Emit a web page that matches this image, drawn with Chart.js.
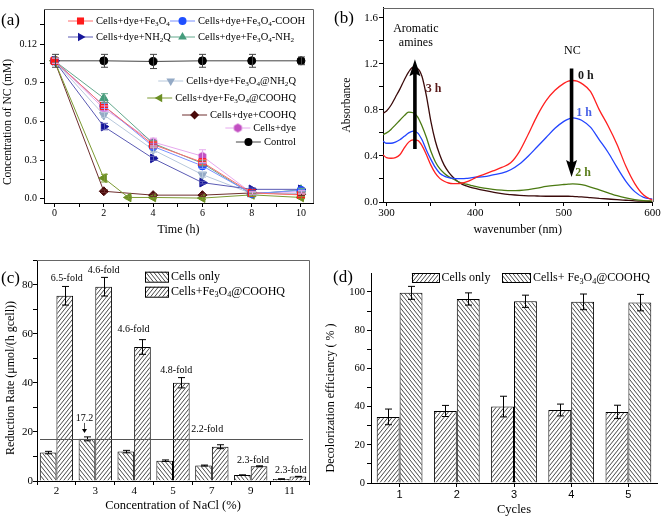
<!DOCTYPE html>
<html>
<head>
<meta charset="utf-8">
<title>NC decolorization figure</title>
<script src="https://cdn.jsdelivr.net/npm/chart.js@4.4.1/dist/chart.umd.min.js"></script>
<style>
  html, body { margin: 0; padding: 0; background: #fff; }
  #page { position: relative; width: 661px; height: 519px; overflow: hidden; background: #fff; }
  #page canvas { position: absolute; }
  .tag { position: absolute; font: 17px "Liberation Serif", serif; line-height: 20px; color: #000; }
</style>
</head>
<body>
<div id="page">
  <canvas id="chartA" width="330" height="250" style="left:0px;top:0px"></canvas>
  <canvas id="chartB" width="345" height="250" style="left:330px;top:0px"></canvas>
  <canvas id="chartC" width="318" height="269" style="left:0px;top:250px"></canvas>
  <canvas id="chartD" width="343" height="269" style="left:318px;top:250px"></canvas>
  <div class="tag" style="left:1px;top:10px">(a)</div>
  <div class="tag" style="left:334px;top:8px">(b)</div>
  <div class="tag" style="left:1px;top:268px">(c)</div>
  <div class="tag" style="left:333px;top:267px">(d)</div>
</div>
<script>
const SERIF = '"Liberation Serif", "Times New Roman", serif';
const SANS = '"Liberation Sans", Arial, sans-serif';

// (a) concentration of NC (mM) vs time (h)
const hours = [0, 2, 4, 6, 8, 10];
const hoursAtCOOHQ = [0, 2, 3, 4, 6, 8, 10];
const ncFe3O4 = [1.07, 0.72, 0.42, 0.283, 0.045, 0.03];
const ncFe3O4COOH = [1.07, 0.72, 0.406, 0.255, 0.04, 0.065];
const ncNH2Q = [1.07, 0.56, 0.313, 0.125, 0.073, 0.073];
const ncFe3O4NH2 = [1.07, 0.78, 0.43, 0.275, 0.035, 0.07];
const ncAtNH2Q = [1.07, 0.65, 0.38, 0.187, 0.04, 0.04];
const ncAtCOOHQ = [1.07, 0.16, 0.01, 0.01, 0.005, 0.03, 0.01];
const ncCOOHQ = [1.07, 0.058, 0.028, 0.028, 0.045, 0.035];
const ncCellsDye = [1.07, 0.70, 0.44, 0.33, 0.045, 0.053];
const ncControl = [1.07, 1.07, 1.065, 1.07, 1.07, 1.07];
const errFe3O4 = [0.02, 0.02, 0.02, 0.02, 0.01, 0.01];
const errFe3O4COOH = [0.02, 0.02, 0.02, 0.02, 0.01, 0.01];
const errNH2Q = [0.02, 0.025, 0.015, 0.01, 0.01, 0.01];
const errFe3O4NH2 = [0.02, 0.035, 0.02, 0.02, 0.01, 0.01];
const errAtNH2Q = [0.02, 0.02, 0.02, 0.02, 0.01, 0.01];
const errAtCOOHQ = [0.02, 0.03, 0.01, 0.01, 0.01, 0.01, 0.01];
const errCOOHQ = [0.02, 0.01, 0.01, 0.01, 0.01, 0.01];
const errCellsDye = [0.02, 0.02, 0.03, 0.05, 0.01, 0.01];
const errControl = [0.05, 0.05, 0.055, 0.05, 0.05, 0.03];
const yTicksA = ['0.0', '0.3', '0.6', '0.9', '0.12'];

// (b) absorbance spectra
const wavelengths = [296, 300, 305, 310, 315, 320, 325, 330, 335, 340, 345, 350, 355, 360, 365, 370, 375, 380, 385, 390, 395, 400, 410, 420, 430, 440, 450, 460, 470, 480, 490, 500, 505, 510, 515, 520, 530, 540, 550, 560, 570, 580, 590, 600];
const abs0h = [0.41, 0.385, 0.38, 0.385, 0.41, 0.47, 0.52, 0.54, 0.535, 0.49, 0.41, 0.32, 0.25, 0.205, 0.18, 0.165, 0.16, 0.16, 0.165, 0.175, 0.19, 0.21, 0.24, 0.27, 0.30, 0.34, 0.44, 0.59, 0.75, 0.88, 0.97, 1.03, 1.05, 1.055, 1.05, 1.03, 0.96, 0.80, 0.66, 0.50, 0.31, 0.16, 0.06, 0.015];
const abs1h = [0.53, 0.51, 0.51, 0.52, 0.54, 0.57, 0.60, 0.615, 0.60, 0.54, 0.45, 0.37, 0.30, 0.25, 0.225, 0.212, 0.205, 0.203, 0.203, 0.205, 0.21, 0.215, 0.22, 0.235, 0.25, 0.28, 0.33, 0.40, 0.48, 0.56, 0.64, 0.70, 0.72, 0.73, 0.725, 0.71, 0.65, 0.54, 0.43, 0.30, 0.18, 0.09, 0.04, 0.025];
const abs2h = [0.585, 0.60, 0.63, 0.67, 0.71, 0.75, 0.78, 0.775, 0.74, 0.66, 0.56, 0.44, 0.35, 0.29, 0.25, 0.22, 0.20, 0.18, 0.165, 0.155, 0.145, 0.135, 0.12, 0.11, 0.103, 0.098, 0.10, 0.108, 0.12, 0.135, 0.145, 0.152, 0.155, 0.157, 0.155, 0.15, 0.13, 0.105, 0.08, 0.055, 0.035, 0.02, 0.012, 0.008];
const abs3h = [0.77, 0.79, 0.84, 0.91, 0.98, 1.06, 1.13, 1.17, 1.16, 1.09, 0.92, 0.70, 0.53, 0.41, 0.32, 0.26, 0.215, 0.18, 0.155, 0.14, 0.128, 0.118, 0.10, 0.085, 0.072, 0.064, 0.058, 0.054, 0.052, 0.05, 0.05, 0.05, 0.05, 0.048, 0.046, 0.044, 0.038, 0.032, 0.026, 0.02, 0.015, 0.01, 0.007, 0.005];

// (c) reduction rate vs NaCl concentration
const naclLevels = ['2', '3', '4', '5', '7', '9', '11'];
const rateCells = [11.6, 17.2, 12.0, 8.3, 6.3, 2.4, 0.8];
const rateCellsErr = [0.5, 0.8, 0.5, 0.3, 0.2, 0.1, 0.1];
const rateHybrid = [75.6, 79.3, 54.7, 40.1, 14.0, 6.0, 1.8];
const rateHybridErr = [3.8, 3.8, 3.0, 2.1, 0.8, 0.2, 0.1];
const foldLabels = ['6.5-fold', '4.6-fold', '4.6-fold', '4.8-fold', '2.2-fold', '2.3-fold', '2.3-fold'];
const cellsRefRate = 17.2;

// (d) decolorization efficiency over cycles
const cycles = ['1', '2', '3', '4', '5'];
const decolCells = [34.6, 37.7, 40.0, 38.2, 37.2];
const decolCellsErr = [4.1, 2.9, 5.4, 3.1, 3.5];
const decolHybrid = [99.5, 96.3, 95.1, 94.8, 94.4];
const decolHybridErr = [3.4, 3.2, 3.2, 4.1, 4.3];
const yTicksD = [0, 10, 20, 30, 40, 50, 60, 70, 80, 90, 100];

Chart.defaults.font.family = SERIF;
Chart.defaults.color = '#000';

// text with one-character subscripts written as _3
function richText(ctx, str, x, y, size, align, weight) {
  const parts = [];
  for (let i = 0; i < str.length; i++) {
    if (str[i] === '_') { parts.push({ t: str[i + 1], sub: true }); i++; }
    else if (parts.length && !parts[parts.length - 1].sub) parts[parts.length - 1].t += str[i];
    else parts.push({ t: str[i], sub: false });
  }
  const w8 = weight || 'normal';
  let total = 0;
  parts.forEach(p => {
    ctx.font = w8 + ' ' + (p.sub ? size * 0.68 : size) + 'px ' + SERIF;
    p.w = ctx.measureText(p.t).width;
    total += p.w;
  });
  let cx = align === 'right' ? x - total : align === 'center' ? x - total / 2 : x;
  ctx.textAlign = 'left';
  ctx.textBaseline = 'middle';
  parts.forEach(p => {
    ctx.font = w8 + ' ' + (p.sub ? size * 0.68 : size) + 'px ' + SERIF;
    ctx.fillText(p.t, cx, p.sub ? y + size * 0.3 : y);
    cx += p.w;
  });
  return total;
}

function vTitle(ctx, text, x, y, size) {
  ctx.save();
  ctx.translate(x, y);
  ctx.rotate(-Math.PI / 2);
  ctx.font = size + 'px ' + SERIF;
  ctx.fillStyle = '#000';
  ctx.textAlign = 'center';
  ctx.textBaseline = 'middle';
  ctx.fillText(text, 0, 0);
  ctx.restore();
}

function makeHatch(canvasId, dir) {
  const w = 4, h = 5;
  const c = document.createElement('canvas');
  c.width = w; c.height = h;
  const g = c.getContext('2d');
  g.fillStyle = '#fff';
  g.fillRect(0, 0, w, h);
  g.strokeStyle = '#333';
  g.lineWidth = 0.9;
  g.beginPath();
  for (let k = -1; k <= 1; k++) {
    if (dir === '/') { g.moveTo(k * w, h); g.lineTo(k * w + w, 0); }
    else { g.moveTo(k * w, 0); g.lineTo(k * w + w, h); }
  }
  g.stroke();
  return document.getElementById(canvasId).getContext('2d').createPattern(c, 'repeat');
}

function hexagon(r, fill) {
  const s = Math.ceil(2 * r + 2);
  const c = document.createElement('canvas');
  c.width = s; c.height = s;
  const g = c.getContext('2d');
  g.beginPath();
  for (let k = 0; k < 6; k++) {
    const a = Math.PI / 6 + k * Math.PI / 3;
    const px = s / 2 + r * Math.cos(a), py = s / 2 + r * Math.sin(a);
    if (k) g.lineTo(px, py); else g.moveTo(px, py);
  }
  g.closePath();
  g.fillStyle = fill;
  g.fill();
  return c;
}

function drawMark(ctx, ds, x, y) {
  const s = ds.pointStyle, r = ds.pointRadius;
  if (typeof s !== 'string') { ctx.drawImage(s, x - s.width / 2, y - s.height / 2); return; }
  const rad = (ds.pointRotation || 0) * Math.PI / 180;
  ctx.save();
  ctx.fillStyle = ds.pointBackgroundColor;
  ctx.beginPath();
  if (s === 'circle') ctx.arc(x, y, r, 0, Math.PI * 2);
  else if (s === 'rect') { const h = r * Math.SQRT1_2; ctx.rect(x - h, y - h, 2 * h, 2 * h); }
  else if (s === 'rectRot') { ctx.moveTo(x, y - r); ctx.lineTo(x + r, y); ctx.lineTo(x, y + r); ctx.lineTo(x - r, y); }
  else if (s === 'triangle') {
    for (let k = 0; k < 3; k++) {
      const a = rad + k * 2 * Math.PI / 3;
      const px = x + Math.sin(a) * r, py = y - Math.cos(a) * r;
      if (k) ctx.lineTo(px, py); else ctx.moveTo(px, py);
    }
  }
  ctx.closePath();
  ctx.fill();
  ctx.restore();
}

function legendLine(ctx, ds, x, y) {
  ctx.save();
  ctx.strokeStyle = ds.borderColor;
  ctx.lineWidth = 1;
  ctx.beginPath();
  ctx.moveTo(x, y);
  ctx.lineTo(x + 25, y);
  ctx.stroke();
  ctx.restore();
  drawMark(ctx, ds, x + 12.5, y);
}

function fatArrow(ctx, x, yTail, yTip) {
  const dir = yTip < yTail ? -1 : 1;
  const headH = 15, headW = 5.5, shaft = 1.8;
  const yBase = yTip - dir * headH;
  ctx.beginPath();
  ctx.moveTo(x - shaft, yTail);
  ctx.lineTo(x - shaft, yBase);
  ctx.lineTo(x - headW, yBase - dir * 2);
  ctx.lineTo(x, yTip);
  ctx.lineTo(x + headW, yBase - dir * 2);
  ctx.lineTo(x + shaft, yBase);
  ctx.lineTo(x + shaft, yTail);
  ctx.closePath();
  ctx.fill();
}

// vertical error bars for any dataset carrying an "errors" array
Chart.register({
  id: 'errorBars',
  afterDatasetsDraw(chart) {
    const ctx = chart.ctx, ys = chart.scales.y;
    chart.data.datasets.forEach((ds, i) => {
      if (!ds.errors) return;
      const meta = chart.getDatasetMeta(i);
      const cap = ds.capWidth || 3;
      ctx.save();
      ctx.strokeStyle = ds.errorColor || '#000';
      ctx.lineWidth = 1;
      meta.data.forEach((el, j) => {
        const e = ds.errors[j];
        if (!e) return;
        const v = typeof ds.data[j] === 'object' ? ds.data[j].y : ds.data[j];
        const x = Math.round(el.x) + 0.5;
        const y1 = ys.getPixelForValue(v + e), y2 = ys.getPixelForValue(v - e);
        ctx.beginPath();
        ctx.moveTo(x, y1); ctx.lineTo(x, y2);
        ctx.moveTo(x - cap, y1); ctx.lineTo(x + cap, y1);
        ctx.moveTo(x - cap, y2); ctx.lineTo(x + cap, y2);
        ctx.stroke();
      });
      ctx.restore();
    });
  }
});

const frame = {
  id: 'frame',
  afterDraw(chart) {
    const { ctx, chartArea: a } = chart;
    ctx.save();
    ctx.strokeStyle = '#666';
    ctx.lineWidth = 1;
    ctx.beginPath();
    ctx.moveTo(a.left, Math.round(a.top) + 0.5);
    ctx.lineTo(Math.round(a.right) + 0.5, Math.round(a.top) + 0.5);
    ctx.lineTo(Math.round(a.right) + 0.5, a.bottom);
    ctx.stroke();
    ctx.restore();
  }
};

function axisBase(min, max, step, size, pad, callback) {
  return {
    type: 'linear', min, max, display: true,
    grid: { drawOnChartArea: false, drawTicks: true, tickLength: 4, color: '#000' },
    border: { display: true, color: '#000', width: 1 },
    ticks: { display: true, stepSize: step, includeBounds: false, autoSkip: false, maxRotation: 0, padding: pad, font: { size }, color: '#000', callback }
  };
}

function seriesA(label, xs, ys, errs, line, point, style, rot, radius) {
  return {
    label,
    data: xs.map((x, i) => ({ x, y: ys[i] })),
    errors: errs, errorColor: line, capWidth: 3.5,
    borderColor: line, backgroundColor: point, borderWidth: 1,
    pointBackgroundColor: point, pointBorderColor: point, pointBorderWidth: 1,
    pointStyle: style, pointRotation: rot, pointRadius: radius || 4
  };
}

// ---------- (a) ----------
const xA = axisBase(-0.426, 10.487, 1, 10, 0, v => (v % 2 === 0 ? v : ''));
xA.afterFit = s => { s.height = 47; };
xA.title = { display: true, text: 'Time (h)', font: { size: 12 }, padding: { top: 0, bottom: 12.8 } };
const yA = axisBase(-0.033, 1.472, 0.15, 10, 3, v => {
  const k = Math.round(v / 0.15);
  return k % 2 === 0 ? yTicksA[k / 2] : '';
});
yA.afterFit = s => { s.width = 44; };

new Chart(document.getElementById('chartA'), {
  type: 'line',
  data: {
    datasets: [
      seriesA('Cells+dye+Fe_3O_4', hours, ncFe3O4, errFe3O4, '#ff6b6b', '#ff1a1a', 'rect', 0, 5),
      seriesA('Cells+dye+Fe_3O_4-COOH', hours, ncFe3O4COOH, errFe3O4COOH, '#7890ff', '#1f4fff', 'circle', 0, 4),
      seriesA('Cells+dye+NH_2Q', hours, ncNH2Q, errNH2Q, '#5a5ab4', '#16169a', 'triangle', 90, 5),
      seriesA('Cells+dye+Fe_3O_4-NH_2', hours, ncFe3O4NH2, errFe3O4NH2, '#62a88c', '#459c7c', 'triangle', 0, 5),
      seriesA('Cells+dye+Fe_3O_4@NH_2Q', hours, ncAtNH2Q, errAtNH2Q, '#b7c8dc', '#94aac6', 'triangle', 180, 5),
      seriesA('Cells+dye+Fe_3O_4@COOHQ', hoursAtCOOHQ, ncAtCOOHQ, errAtCOOHQ, '#7c9a32', '#6b8e23', 'triangle', -90, 5),
      seriesA('Cells+dye+COOHQ', hours, ncCOOHQ, errCOOHQ, '#6e2e2e', '#4a0a0a', 'rectRot', 0, 4.5),
      seriesA('Cells+dye', hours, ncCellsDye, errCellsDye, '#e6a8ee', hexagon(4.5, '#c24fc2'), hexagon(4.5, '#c24fc2'), 0, 4.5),
      seriesA('Control', hours, ncControl, errControl, '#444', '#000', 'circle', 0, 4)
    ]
  },
  options: {
    responsive: false, animation: false,
    layout: { padding: { left: 0, top: 4, right: 17, bottom: 0 } },
    plugins: { legend: { display: false }, tooltip: { enabled: false } },
    scales: { x: xA, y: yA }
  },
  plugins: [frame, {
    id: 'legendA',
    afterDraw(chart) {
      const ctx = chart.ctx, ds = chart.data.datasets;
      ctx.save();
      ctx.fillStyle = '#000';
      [[0, 68, 21], [1, 170, 21], [2, 68, 37], [3, 170, 37]].forEach(([i, x, y]) => {
        legendLine(ctx, ds[i], x, y);
        ctx.fillStyle = '#000';
        richText(ctx, ds[i].label, x + 28, y, 10.5, 'left');
      });
      [[4, 81], [5, 98], [6, 115], [7, 128], [8, 142]].forEach(([i, y]) => {
        ctx.fillStyle = '#000';
        const w = richText(ctx, ds[i].label, 296, y, 10.5, 'right');
        legendLine(ctx, ds[i], 296 - w - 28, y);
      });
      vTitle(ctx, 'Concentration of NC (mM)', 7.5, 122, 11.5);
      ctx.restore();
    }
  }]
});

// ---------- (b) ----------
const xB = axisBase(296, 600, 50, 11, 1, v => (v % 100 === 0 ? v : ''));
xB.afterFit = s => { s.height = 48; };
xB.title = { display: true, text: 'wavenumber (nm)', font: { size: 12 }, padding: { top: 0, bottom: 12.8 } };
const yB = axisBase(0, 1.688, 0.2, 11, 1, v => (Math.round(v * 10) % 4 === 0 ? v.toFixed(1) : ''));
yB.afterFit = s => { s.width = 53; };

function spectrum(label, values, color) {
  return {
    label,
    data: wavelengths.map((x, i) => ({ x, y: values[i] })),
    borderColor: color, borderWidth: 1.3, pointRadius: 0,
    cubicInterpolationMode: 'monotone', fill: false
  };
}

new Chart(document.getElementById('chartB'), {
  type: 'line',
  data: {
    datasets: [
      spectrum('0 h', abs0h, '#ff2020'),
      spectrum('1 h', abs1h, '#2244ff'),
      spectrum('2 h', abs2h, '#4b7a12'),
      spectrum('3 h', abs3h, '#3a0a0a')
    ]
  },
  options: {
    responsive: false, animation: false,
    layout: { padding: { left: 0, top: 5, right: 22.5, bottom: 0 } },
    plugins: { legend: { display: false }, tooltip: { enabled: false } },
    scales: { x: xB, y: yB }
  },
  plugins: [frame, {
    id: 'notesB',
    afterDraw(chart) {
      const ctx = chart.ctx, xs = chart.scales.x, ys = chart.scales.y;
      ctx.save();
      ctx.fillStyle = '#000';
      fatArrow(ctx, xs.getPixelForValue(332), ys.getPixelForValue(0.46), ys.getPixelForValue(1.24));
      fatArrow(ctx, xs.getPixelForValue(508.7), ys.getPixelForValue(1.16), ys.getPixelForValue(0.217));
      richText(ctx, 'Aromatic', xs.getPixelForValue(333), ys.getPixelForValue(1.505), 12, 'center');
      richText(ctx, 'amines', xs.getPixelForValue(333), ys.getPixelForValue(1.38), 12, 'center');
      richText(ctx, 'NC', xs.getPixelForValue(509.6), ys.getPixelForValue(1.314), 12, 'center');
      ctx.fillStyle = '#1a1a1a';
      richText(ctx, '0 h', xs.getPixelForValue(516), ys.getPixelForValue(1.094), 12, 'left', 'bold');
      ctx.fillStyle = '#4a63e6';
      richText(ctx, '1 h', xs.getPixelForValue(514), ys.getPixelForValue(0.77), 12, 'left', 'bold');
      ctx.fillStyle = '#5a7d1a';
      richText(ctx, '2 h', xs.getPixelForValue(513), ys.getPixelForValue(0.25), 12, 'left', 'bold');
      ctx.fillStyle = '#5a1a1a';
      richText(ctx, '3 h', xs.getPixelForValue(353), ys.getPixelForValue(0.983), 12, 'center', 'bold');
      vTitle(ctx, 'Absorbance', 16.7, 105, 11.5);
      ctx.restore();
    }
  }]
});

// ---------- (c) ----------
const hatchBackC = makeHatch('chartC', '\\');
const hatchFwdC = makeHatch('chartC', '/');
const xC = {
  type: 'category',
  grid: { drawOnChartArea: false, drawTicks: true, tickLength: 4, color: '#000', offset: true },
  border: { display: true, color: '#000', width: 1 },
  ticks: { font: { size: 11 }, padding: 0, color: '#000', maxRotation: 0 },
  title: { display: true, text: 'Concentration of NaCl (%)', font: { size: 12.5 }, padding: { top: 0, bottom: 6.1 } },
  afterFit: s => { s.height = 38; }
};
const yC = axisBase(0, 90.2, 10, 11, 0, v => (v % 20 === 0 ? v : ''));
yC.afterFit = s => { s.width = 37; };

new Chart(document.getElementById('chartC'), {
  type: 'bar',
  data: {
    labels: naclLevels,
    datasets: [
      { label: 'Cells only', data: rateCells, errors: rateCellsErr, capWidth: 3.5,
        backgroundColor: hatchBackC, borderColor: '#000', borderWidth: 1, barPercentage: 1, categoryPercentage: 0.857 },
      { label: 'Cells+Fe_3O_4@COOHQ', data: rateHybrid, errors: rateHybridErr, capWidth: 3.5,
        backgroundColor: hatchFwdC, borderColor: '#000', borderWidth: 1, barPercentage: 1, categoryPercentage: 0.857 }
    ]
  },
  options: {
    responsive: false, animation: false,
    layout: { padding: { left: 0, top: 10, right: 9, bottom: 0 } },
    plugins: { legend: { display: false }, tooltip: { enabled: false } },
    scales: { x: xC, y: yC }
  },
  plugins: [frame, {
    id: 'notesC',
    afterDraw(chart) {
      const ctx = chart.ctx, a = chart.chartArea, ys = chart.scales.y;
      const cellsBars = chart.getDatasetMeta(0).data, hybridBars = chart.getDatasetMeta(1).data;
      ctx.save();
      // reference line at the 3 % cells-only rate
      const yRef = Math.round(ys.getPixelForValue(cellsRefRate)) + 0.5;
      ctx.strokeStyle = '#555';
      ctx.lineWidth = 1;
      ctx.beginPath();
      ctx.moveTo(a.left + 3, yRef);
      ctx.lineTo(a.right - 6, yRef);
      ctx.stroke();
      // fold labels
      const foldY = [82.7, 86.1, 62, 45.3, 21.1, 8.3, 4.5];
      const foldDx = [2, 0, -9, -5, -13, -6, -7];
      ctx.fillStyle = '#000';
      foldLabels.forEach((t, i) => {
        richText(ctx, t, hybridBars[i].x + foldDx[i], ys.getPixelForValue(foldY[i]), 10, 'center');
      });
      // 17.2 marker
      const ax = Math.round(cellsBars[1].x - 3) + 0.5;
      richText(ctx, String(cellsRefRate), ax, ys.getPixelForValue(25.6), 10, 'center');
      const yT = ys.getPixelForValue(23.7), yP = ys.getPixelForValue(19.6);
      ctx.beginPath();
      ctx.moveTo(ax, yT); ctx.lineTo(ax, yP - 3);
      ctx.stroke();
      ctx.beginPath();
      ctx.moveTo(ax - 2.5, yP - 4); ctx.lineTo(ax, yP); ctx.lineTo(ax + 2.5, yP - 4);
      ctx.closePath();
      ctx.fill();
      // legend
      const ds = chart.data.datasets;
      [[0, 21.7], [1, 36.7]].forEach(([i, y]) => {
        ctx.fillStyle = ds[i].backgroundColor;
        ctx.fillRect(145, y, 23, 10);
        ctx.strokeStyle = '#000';
        ctx.strokeRect(145.5, y + 0.5, 23, 10);
        ctx.fillStyle = '#000';
        richText(ctx, ds[i].label, 171, y + 5, 12, 'left');
      });
      vTitle(ctx, 'Reduction Rate (\u03bcmol/(h gcell))', 11, 128, 12);
      ctx.restore();
    }
  }]
});

// ---------- (d) ----------
const hatchFwdD = makeHatch('chartD', '/');
const hatchBackD = makeHatch('chartD', '\\');
const xD = {
  type: 'category',
  grid: { drawOnChartArea: false, drawTicks: true, tickLength: 4, color: '#000', offset: false },
  border: { display: true, color: '#000', width: 1 },
  ticks: { font: { size: 11, family: SANS }, padding: 1, color: '#000', maxRotation: 0 },
  title: { display: true, text: 'Cycles', font: { size: 12.5 }, padding: { top: 0, bottom: 1.8 } },
  afterFit: s => { s.height = 36; }
};
const yD = axisBase(0, 109.9, 10, 10.5, 2, v => (Math.round(v) % 20 === 0 ? String(Math.round(v)) : ''));
yD.afterBuildTicks = s => { s.ticks = yTicksD.map(v => ({ value: v })); };
yD.afterFit = s => { s.width = 53; };

new Chart(document.getElementById('chartD'), {
  type: 'bar',
  data: {
    labels: cycles,
    datasets: [
      { label: 'Cells only', data: decolCells, errors: decolCellsErr, capWidth: 3.5,
        backgroundColor: hatchFwdD, borderColor: '#000', borderWidth: 1, barPercentage: 1, categoryPercentage: 0.80 },
      { label: 'Cells+ Fe_3O_4@COOHQ', data: decolHybrid, errors: decolHybridErr, capWidth: 3.5,
        backgroundColor: hatchBackD, borderColor: '#000', borderWidth: 1, barPercentage: 1, categoryPercentage: 0.80 }
    ]
  },
  options: {
    responsive: false, animation: false,
    layout: { padding: { left: 0, top: 23, right: 4, bottom: 0 } },
    plugins: { legend: { display: false }, tooltip: { enabled: false } },
    scales: { x: xD, y: yD }
  },
  plugins: [{
    id: 'notesD',
    afterDraw(chart) {
      const ctx = chart.ctx, ds = chart.data.datasets;
      ctx.save();
      [[0, 93.7, 26.7], [1, 184.3, 27.7]].forEach(([i, x, w]) => {
        ctx.fillStyle = ds[i].backgroundColor;
        ctx.fillRect(x, 23.3, w, 9);
        ctx.strokeStyle = '#000';
        ctx.strokeRect(Math.round(x) + 0.5, 23.5, Math.round(w), 9);
        ctx.fillStyle = '#000';
        richText(ctx, ds[i].label, x + w + 3, 28, 12, 'left');
      });
      vTitle(ctx, 'Decolorization efficiency ( % )', 13, 148, 12);
      ctx.restore();
    }
  }]
});
</script>
</body>
</html>
